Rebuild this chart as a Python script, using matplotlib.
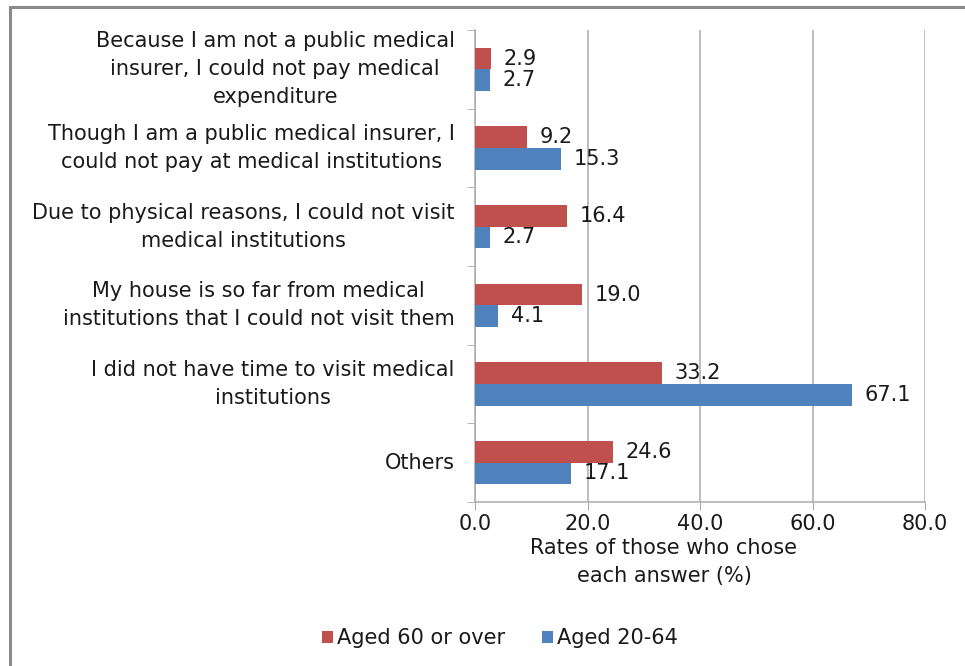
import matplotlib
matplotlib.use("Agg")
import matplotlib.pyplot as plt
from matplotlib.patches import Rectangle
import numpy as np

plt.rcParams['font.family'] = ['DejaVu Sans']

categories = [
    "Because I am not a public medical\ninsurer, I could not pay medical\nexpenditure",
    "Though I am a public medical insurer, I\ncould not pay at medical institutions",
    "Due to physical reasons, I could not visit\nmedical institutions",
    "My house is so far from medical\ninstitutions that I could not visit them",
    "I did not have time to visit medical\ninstitutions",
    "Others",
]
aged_60_over = [2.9, 9.2, 16.4, 19.0, 33.2, 24.6]
aged_20_64 = [2.7, 15.3, 2.7, 4.1, 67.1, 17.1]
series_names = ["Aged 60 or over", "Aged 20-64"]
x_ticks = [0, 20, 40, 60, 80]

red = "#C0504D"
blue = "#4F81BD"
grid_c = "#ABABAB"
text_c = "#1a1a1a"
fs = 15

W, H = 965, 666
fig = plt.figure(figsize=(W / 100, H / 100), dpi=100)

# outer frame
fig.patches.append(Rectangle((10 / W, -0.05), 1.2, (H - 7) / H + 0.05,
                             transform=fig.transFigure, fill=False,
                             edgecolor="#8a8a8a", linewidth=2.2))

ax = fig.add_axes([475 / W, 1 - 502 / H, 450 / W, (502 - 30) / H])

n = len(categories)
pos = np.arange(n)
bh = 0.275
ax.barh(pos - bh / 2, aged_60_over, height=bh, color=red, label=series_names[0], zorder=3)
ax.barh(pos + bh / 2, aged_20_64, height=bh, color=blue, label=series_names[1], zorder=3)

for i in range(n):
    ax.annotate(f"{aged_60_over[i]:.1f}", (aged_60_over[i], pos[i] - bh / 2),
                xytext=(9, 0), textcoords="offset points", va="center", ha="left",
                fontsize=fs, color=text_c)
    ax.annotate(f"{aged_20_64[i]:.1f}", (aged_20_64[i], pos[i] + bh / 2),
                xytext=(9, 0), textcoords="offset points", va="center", ha="left",
                fontsize=fs, color=text_c)

ax.set_xlim(0, 80)
ax.set_ylim(n - 0.5, -0.5)
ax.set_xticks(x_ticks)
ax.set_xticklabels([f"{v:.1f}" for v in x_ticks], fontsize=fs, color=text_c)
ax.tick_params(axis="x", length=6, color=grid_c, pad=3)

ax.set_yticks(pos)
ax.set_yticklabels([])
ax.tick_params(axis="y", length=0)
ax.set_yticks(np.arange(n + 1) - 0.5, minor=True)
ax.tick_params(axis="y", which="minor", length=6, color=grid_c)

for i, lab in enumerate(categories):
    ax.text(-0.045, pos[i], lab, transform=ax.get_yaxis_transform(),
            ha="right", va="center", multialignment="center",
            fontsize=fs, color=text_c, linespacing=1.5)

ax.grid(axis="x", color=grid_c, linewidth=1.1, zorder=0)
for s in ["top", "right"]:
    ax.spines[s].set_visible(False)
ax.spines["left"].set_color(grid_c)
ax.spines["bottom"].set_color(grid_c)
ax.spines["left"].set_linewidth(1.1)
ax.spines["bottom"].set_linewidth(1.1)

fig.text(664 / W, 1 - 562 / H, "Rates of those who chose\neach answer (%)",
         ha="center", va="center", fontsize=fs, color=text_c, linespacing=1.5)

leg = fig.legend(loc="center", bbox_to_anchor=(500 / W, 1 - 638 / H), ncol=2,
                 frameon=False, fontsize=fs, handlelength=0.5, handleheight=0.5,
                 handletextpad=0.2, columnspacing=1.8)
for t in leg.get_texts():
    t.set_color(text_c)

fig.savefig("out.png", dpi=100)
